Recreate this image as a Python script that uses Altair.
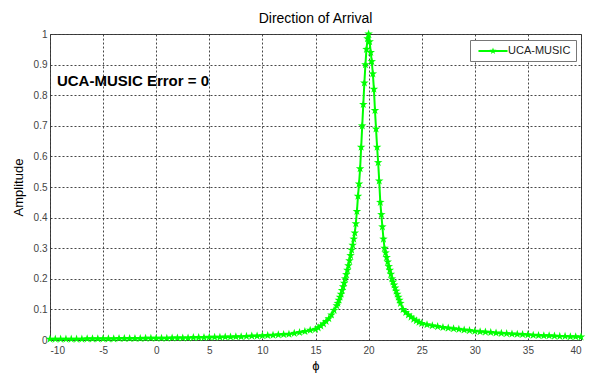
import altair as alt
import pandas as pd

GREEN = "#00ff00"
FONT = "Liberation Sans"

phi_tail_left = [-10.0, -9.5, -9.0, -8.5, -8.0, -7.5, -7.0, -6.5, -6.0, -5.5,
                 -5.0, -4.5, -4.0, -3.5, -3.0, -2.5, -2.0, -1.5, -1.0, -0.5,
                 0.0, 0.5, 1.0, 1.5, 2.0, 2.5, 3.0, 3.5, 4.0, 4.5,
                 5.0, 5.5, 6.0, 6.5, 7.0, 7.5, 8.0, 8.5, 9.0, 9.5,
                 10.0, 10.5, 11.0, 11.5, 12.0, 12.5, 13.0, 13.5, 14.0, 14.5]
amp_tail_left = [0.003, 0.003, 0.003, 0.003, 0.003, 0.003, 0.003, 0.004, 0.004, 0.004,
                 0.004, 0.004, 0.004, 0.005, 0.005, 0.005, 0.005, 0.005, 0.006, 0.006,
                 0.006, 0.006, 0.006, 0.007, 0.007, 0.007, 0.007, 0.008, 0.008, 0.008,
                 0.009, 0.009, 0.009, 0.010, 0.010, 0.011, 0.011, 0.012, 0.013, 0.013,
                 0.014, 0.015, 0.016, 0.017, 0.018, 0.019, 0.022, 0.025, 0.028, 0.032]

phi_flank_left = [15.0, 15.25, 15.5, 15.75, 16.0, 16.25, 16.5, 16.75, 17.0]
amp_flank_left = [0.035, 0.040, 0.046, 0.053, 0.061, 0.070, 0.082, 0.097, 0.112]

phi_peak = [17.1, 17.2, 17.3, 17.4, 17.5, 17.6, 17.7, 17.8, 17.9,
            18.0, 18.1, 18.2, 18.3, 18.4, 18.5, 18.6, 18.7, 18.8, 18.9,
            19.0, 19.1, 19.2, 19.3, 19.4, 19.5, 19.6, 19.7, 19.8, 19.9,
            20.0,
            20.1, 20.2, 20.3, 20.4, 20.5, 20.6, 20.7, 20.8, 20.9,
            21.0, 21.1, 21.2, 21.3, 21.4, 21.5, 21.6, 21.7, 21.8, 21.9,
            22.0, 22.1, 22.2, 22.3, 22.4, 22.5, 22.6, 22.7, 22.8, 22.9]
amp_peak = [0.12, 0.13, 0.14, 0.15, 0.162, 0.174, 0.186, 0.20, 0.214,
            0.228, 0.243, 0.259, 0.276, 0.294, 0.31, 0.33, 0.35, 0.38, 0.42,
            0.47, 0.51, 0.56, 0.63, 0.70, 0.77, 0.84, 0.90, 0.95, 0.985,
            1.0,
            0.975, 0.94, 0.91, 0.87, 0.82, 0.75, 0.69, 0.63, 0.58,
            0.52, 0.45, 0.41, 0.37, 0.33, 0.30, 0.285, 0.27, 0.255, 0.24,
            0.228, 0.215, 0.20, 0.19, 0.18, 0.17, 0.16, 0.15, 0.14, 0.13]

phi_flank_right = [23.0, 23.25, 23.5, 23.75, 24.0, 24.25, 24.5, 24.75, 25.0]
amp_flank_right = [0.12, 0.10, 0.09, 0.082, 0.075, 0.068, 0.063, 0.058, 0.054]

phi_tail_right = [25.5, 26.0, 26.5, 27.0, 27.5, 28.0, 28.5, 29.0, 29.5, 30.0,
                  30.5, 31.0, 31.5, 32.0, 32.5, 33.0, 33.5, 34.0, 34.5, 35.0,
                  35.5, 36.0, 36.5, 37.0, 37.5, 38.0, 38.5, 39.0, 39.5, 40.0]
amp_tail_right = [0.050, 0.047, 0.044, 0.041, 0.039, 0.037, 0.035, 0.033, 0.031, 0.029,
                  0.027, 0.026, 0.025, 0.023, 0.022, 0.021, 0.020, 0.019, 0.018, 0.017,
                  0.016, 0.015, 0.014, 0.014, 0.013, 0.012, 0.012, 0.011, 0.011, 0.010]

x_ticks = [-10, -5, 0, 5, 10, 15, 20, 25, 30, 35, 40]
y_ticks = [0, 0.1, 0.2, 0.3, 0.4, 0.5, 0.6, 0.7, 0.8, 0.9, 1]
series_name = "UCA-MUSIC"
annotation = ["UCA-MUSIC Error = 0"]
annotation_phi = [-9.35]
annotation_amp = [0.846]
title_text = "Direction of Arrival"

phi = phi_tail_left + phi_flank_left + phi_peak + phi_flank_right + phi_tail_right
amp = amp_tail_left + amp_flank_left + amp_peak + amp_flank_right + amp_tail_right
df = pd.DataFrame({"phi": phi, "amp": amp, "series": [series_name] * len(phi)})
df_txt = pd.DataFrame({"phi": annotation_phi, "amp": annotation_amp, "label": annotation})

STAR = ("M0,-1L0.235,-0.324L0.951,-0.309L0.38,0.124L0.588,0.809L0,0.4"
        "L-0.588,0.809L-0.38,0.124L-0.951,-0.309L-0.235,-0.324Z")
LEG_SYM = ("M-2.42,-0.17H2.42V0.17H-2.42Z"
           "M0,-0.6L0.14,-0.19L0.57,-0.19L0.23,0.07L0.35,0.49L0,0.24"
           "L-0.35,0.49L-0.23,0.07L-0.57,-0.19L-0.14,-0.19Z")

x_enc = alt.X("phi:Q", scale=alt.Scale(domain=[-10, 40], nice=False, zero=False),
              axis=alt.Axis(values=x_ticks, title="ϕ", labelExpr="'' + datum.value"))
y_enc = alt.Y("amp:Q", scale=alt.Scale(domain=[0, 1], nice=False),
              axis=alt.Axis(values=y_ticks, title="Amplitude", labelExpr="'' + datum.value"))

base = alt.Chart(df)
line = base.mark_line(color=GREEN, strokeWidth=2).encode(x=x_enc, y=y_enc)
pts = base.mark_point(shape=STAR, filled=True, size=80, opacity=1).encode(
    x=x_enc, y=y_enc,
    color=alt.Color("series:N", scale=alt.Scale(range=[GREEN]),
                    legend=alt.Legend(title=None, orient="none", legendX=420, legendY=6,
                                      symbolType=LEG_SYM, symbolSize=144,
                                      symbolStrokeWidth=0, symbolOffset=12,
                                      labelFontSize=11, labelFont=FONT,
                                      labelColor="#222", padding=5,
                                      strokeColor="#777", fillColor="white",
                                      labelOffset=9, cornerRadius=0)))
txt = alt.Chart(df_txt).mark_text(align="left", baseline="middle",
                                  fontWeight="bold", fontSize=15, font=FONT,
                                  color="black").encode(x=x_enc, y=y_enc, text="label:N")

chart = alt.layer(line, pts, txt).properties(
    width=531, height=306,
    background="white",
    autosize=alt.AutoSizeParams(type="none"),
    padding={"left": 50, "top": 34, "right": 9, "bottom": 34},
    title=alt.TitleParams(title_text, fontSize=14, fontWeight="normal", font=FONT,
                          color="black", offset=3, anchor="middle"),
).configure_view(stroke="#444", strokeWidth=1).configure_axis(
    domain=False, ticks=False, grid=True, gridColor="#333", gridDash=[2, 2],
    gridWidth=1, gridOpacity=0.9, labelFont=FONT, labelFontSize=10, labelColor="#444",
    titleFont=FONT, titleFontWeight="normal", titleColor="black", titleFontSize=13,
).configure_axisX(labelPadding=5, titlePadding=4).configure_axisY(
    labelPadding=3, titlePadding=8)

chart.save("out.html", embed_options={"renderer": "svg", "actions": False})
